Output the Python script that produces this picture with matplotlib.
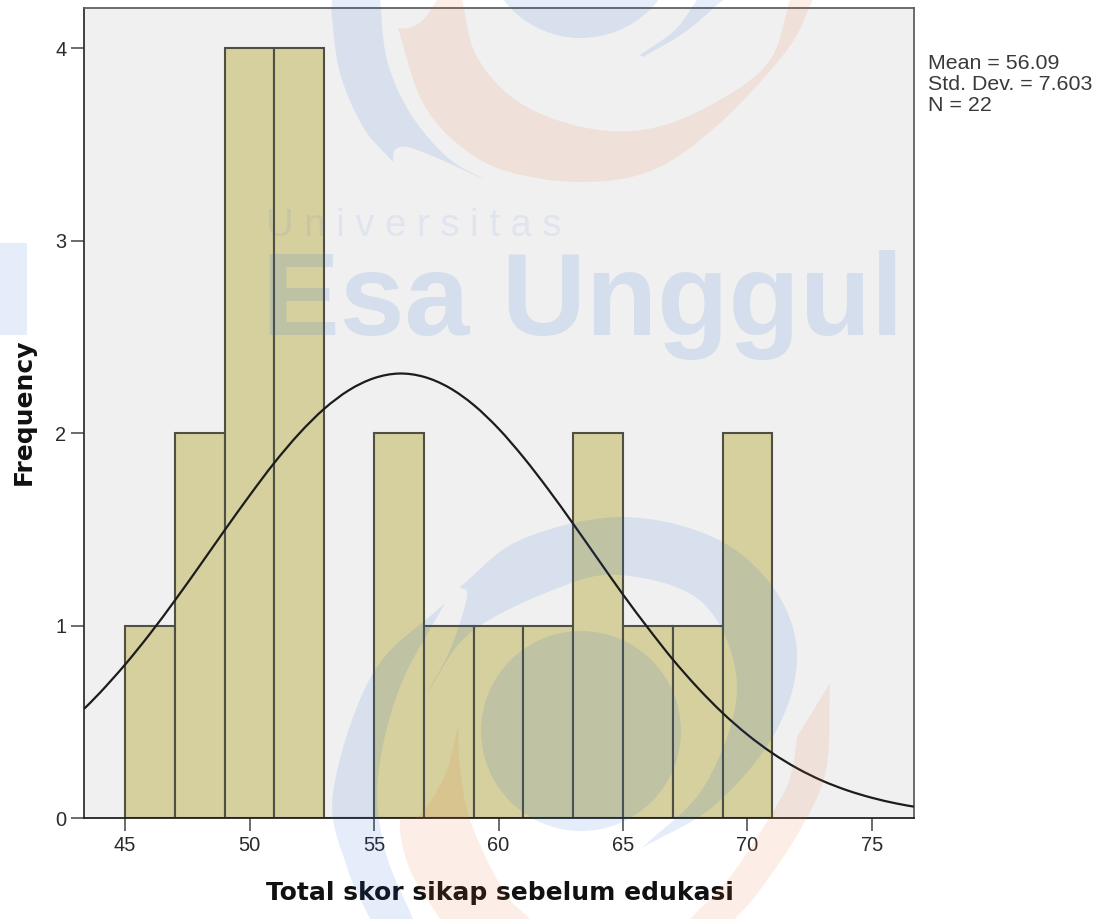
import numpy as np
import matplotlib
matplotlib.use("Agg")
import matplotlib.pyplot as plt
from matplotlib.patches import Polygon, Circle, Rectangle, PathPatch
from matplotlib.path import Path

# ---- data ----
bin_left = [45, 47, 49, 51, 53, 55, 57, 59, 61, 63, 65, 67, 69]
counts = [1, 2, 4, 4, 0, 2, 1, 1, 1, 2, 1, 1, 2]
bin_width = 2
curve_x = [43.35, 44, 45, 46, 47, 48, 49, 50, 51, 52, 53, 54, 55, 56, 57, 58, 59, 60, 61, 62,
           63, 64, 65, 66, 67, 68, 69, 70, 71, 72, 73, 74, 75, 76, 76.69]
curve_y = [0.567, 0.652, 0.797, 0.957, 1.130, 1.311, 1.495, 1.675, 1.846, 1.998, 2.126, 2.223,
           2.285, 2.309, 2.292, 2.237, 2.146, 2.023, 1.874, 1.707, 1.528, 1.344, 1.161, 0.988,
           0.824, 0.677, 0.546, 0.433, 0.337, 0.258, 0.194, 0.144, 0.105, 0.075, 0.059]
x_ticks = [45, 50, 55, 60, 65, 70, 75]
y_ticks = [0, 1, 2, 3, 4]
stats_lines = ["Mean = 56.09", "Std. Dev. = 7.603", "N = 22"]
x_title = "Total skor sikap sebelum edukasi"
y_title = "Frequency"

W, H = 1102, 919
SANS = ["Liberation Sans", "DejaVu Sans"]
fig = plt.figure(figsize=(W / 100, H / 100), dpi=100, facecolor="white")
L, R, T, B = 84, 914, 8, 818
ax = fig.add_axes([L / W, 1 - B / H, (R - L) / W, (B - T) / H], facecolor="#f0f0f0")
ax.bar(bin_left, counts, width=bin_width, align="edge", color="#d5d09d",
       edgecolor="#4f4f45", linewidth=1.5, zorder=2)


def smooth_path(xs, ys):
    """Cubic Bezier path through the read points (no extra data values)."""
    p = np.column_stack([xs, ys])
    verts = [p[0]]
    codes = [Path.MOVETO]
    for i in range(len(p) - 1):
        a = p[max(i - 1, 0)]
        d = p[min(i + 2, len(p) - 1)]
        verts += [p[i] + (p[i + 1] - a) / 6, p[i + 1] - (d - p[i]) / 6, p[i + 1]]
        codes += [Path.CURVE4] * 3
    return Path(verts, codes)


ax.add_patch(PathPatch(smooth_path(curve_x, curve_y), facecolor="none", edgecolor="#1c1c1c",
                       lw=1.6, zorder=3))
ax.set_xlim(43.35, 76.69)
ax.set_ylim(0, 4.208)
ax.set_xticks(x_ticks)
ax.set_yticks(y_ticks)
ax.tick_params(axis="both", length=9.2, width=1.1, color="#444444", labelcolor="#2a2a2a",
               labelsize=14.4, pad=3.5)
for lab in ax.get_xticklabels() + ax.get_yticklabels():
    lab.set_family(SANS)
for side, col in [("left", "#333333"), ("bottom", "#222222"), ("top", "#606060"), ("right", "#606060")]:
    ax.spines[side].set_color(col)
    ax.spines[side].set_linewidth(1.3)

fig.text(500 / W, 1 - 893 / H, x_title, ha="center", va="center", fontsize=18,
         fontweight="bold", family="DejaVu Sans", color="#111111")
fig.text(24 / W, 1 - 412 / H, y_title, ha="center", va="center", rotation=90, fontsize=18,
         fontweight="bold", family="DejaVu Sans", color="#111111")
for i, s in enumerate(stats_lines):
    fig.text(928 / W, 1 - (63.5 + 21 * i) / H, s, ha="left", va="center", fontsize=15.4,
             family=SANS, color="#3a3a3a")


# ---- watermark laid over the chart, in pixel coordinates ----
def cr(pts, n=10):
    p = np.array(pts, float)
    if len(p) < 3:
        return p
    q = np.vstack([2 * p[0] - p[1], p, 2 * p[-1] - p[-2]])
    out = []
    for i in range(1, len(q) - 2):
        for t in np.linspace(0, 1, n, endpoint=False):
            out.append(0.5 * ((2 * q[i]) + (q[i + 1] - q[i - 1]) * t
                              + (2 * q[i - 1] - 5 * q[i] + 4 * q[i + 1] - q[i + 2]) * t ** 2
                              + (3 * q[i] - q[i - 1] - 3 * q[i + 1] + q[i + 2]) * t ** 3))
    out.append(p[-1])
    return np.array(out)


def shape(*edges):
    return np.vstack([cr(e) for e in edges])


ov = fig.add_axes([0, 0, 1, 1], facecolor="none", zorder=10)
ov.set_xlim(0, W)
ov.set_ylim(H, 0)
ov.axis("off")
BLUE = dict(facecolor="#1f63d8", alpha=0.115, edgecolor="none")
ORNG = dict(facecolor="#e8682a", alpha=0.115, edgecolor="none")

blue_shapes = [
    # lower logo, big right crescent
    shape([(427, 693), (450, 650), (467, 597), (460, 587)],
          [(460, 587), (520, 540), (620, 517), (715, 538), (775, 590), (797, 657), (775, 733), (715, 805), (642, 848)],
          [(642, 848), (705, 785), (737, 687), (703, 603), (620, 575), (553, 590), (470, 633), (427, 693)]),
    # lower logo, left crescent
    shape([(445, 603), (373, 673), (333, 793), (347, 867), (370, 919)],
          [(370, 919), (413, 919)],
          [(413, 919), (385, 850), (378, 777), (400, 687), (445, 603)]),
    # upper logo, left crescent
    shape([(332, 0), (332, 17), (340, 73), (363, 127), (393, 162)],
          [(393, 162), (395, 150), (407, 147), (437, 158), (485, 180)],
          [(485, 180), (447, 157), (410, 113), (387, 60), (380, 0)]),
    # upper logo, thin right tip
    shape([(640, 55), (675, 30), (697, 0)], [(697, 0), (723, 0)], [(723, 0), (685, 32), (643, 57)]),
]
orange_shapes = [
    shape([(458, 727), (445, 775), (420, 815), (400, 822), (410, 870), (440, 919)],
          [(440, 919), (530, 919)],
          [(530, 919), (503, 890), (470, 820), (460, 767), (458, 727)]),
    shape([(830, 683), (826, 770), (800, 830), (760, 890), (735, 919)],
          [(735, 919), (690, 919)],
          [(690, 919), (733, 873), (780, 800), (792, 770), (797, 737)],
          [(797, 737), (830, 683)]),
    shape([(398, 28), (408, 28), (423, 20), (437, 0)],
          [(437, 0), (462, 0)],
          [(462, 0), (477, 57), (520, 103), (587, 128), (653, 128), (720, 100), (770, 60), (790, 0)],
          [(790, 0), (813, 0)],
          [(813, 0), (787, 50), (720, 123), (653, 170), (580, 182), (503, 170), (453, 140), (420, 97), (398, 28)]),
]
for s in blue_shapes:
    ov.add_patch(Polygon(s, closed=True, **BLUE))
for s in orange_shapes:
    ov.add_patch(Polygon(s, closed=True, **ORNG))
ov.add_patch(Circle((581, 731), 100, **BLUE))
ov.add_patch(Circle((581, -60), 98, **BLUE))
ov.add_patch(Rectangle((0, 243), 27, 92, **BLUE))

ov.text(266, 236, "U n i v e r s i t a s", ha="left", va="baseline", fontsize=27.5,
        family=SANS, color="#1f63d8", alpha=0.08)
ov.text(262, 335, "Esa Unggul", ha="left", va="baseline", fontsize=84, fontweight="bold",
        family=SANS, color="#1f63d8", alpha=0.125)

fig.savefig("out.png", dpi=100)
